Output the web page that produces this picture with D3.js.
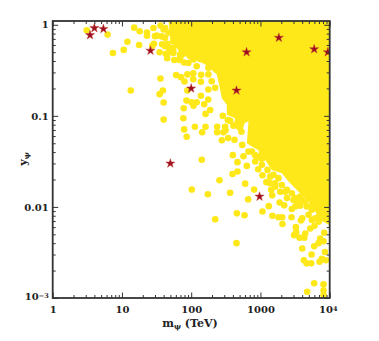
<!DOCTYPE html>
<meta charset="utf-8">
<style>

body {
	margin: 0;
	background: #fff;
}

text {
	font-family: "DejaVu Serif", serif;
	font-weight: bold;
	font-size: 10px;
	fill: #222;
}

.axis path {
	display: none;
}

.axis line {
	stroke: #333;
}

.axis .tick text {
	fill: #222;
}

</style>
<svg width="379" height="341"></svg>
<script src="https://d3js.org/d3.v7.min.js"></script>
<script>

	// scattered models
	var pointM = [
		3.1, 6.2, 15, 18, 12, 17.7, 10.6, 7.4, 23, 23, 28.5, 36, 32, 29, 27.5, 35, 45, 47, 43, 48.5,
		45, 57, 68, 79, 60.5, 71, 80, 88, 36, 39, 35, 88, 40, 85.5, 78, 40, 77, 79, 86, 13.4,
		37.6, 42, 55, 69,
		107, 107, 139, 138, 101, 120, 108, 138, 154, 176, 161, 188, 286, 338, 365, 113, 161, 144, 237, 237,
		309, 313, 292, 408, 532, 277, 342, 422, 545, 399, 142, 569, 672, 839,
		466, 466, 395, 256, 602, 810, 365, 102, 174, 665, 456, 589, 222, 1070, 1320, 1490, 1820, 2060, 2080, 2810,
		1890, 2200, 1430, 1480, 1220, 1070, 927, 636, 451, 4010, 5470, 4240, 4630, 5410, 7140, 7710, 8810, 8530,
		5970, 4730, 8150, 8150, 8150, 3250, 3280, 3070, 3670, 4290, 4430, 5230, 6040, 6980, 8340, 7290, 6900, 5970, 8150,
		4010, 3840, 2840, 3180, 3750,
		91, 120, 177, 177, 198, 222, 177, 30, 40, 42, 38, 55, 73, 47, 55, 97, 135,
		839, 5230, 1380, 1630, 2280, 3000, 3970,
		1050, 1265, 1545, 1820, 1380, 1630, 2040, 2410, 1930, 2840, 2410, 3180, 3750, 3360, 4430, 4680, 5530, 4950, 6180, 5530, 6900,
		752, 887, 950, 1050, 55, 42, 69, 108
	];
	var pointY = [
		0.87, 0.78, 0.93, 0.85, 0.65, 0.6, 0.53, 0.49, 0.82, 0.76, 0.92, 0.98, 0.76, 0.62, 0.59, 0.5, 0.62, 0.57, 0.48, 0.5,
		0.43, 0.41, 0.41, 0.385, 0.28, 0.266, 0.238, 0.285, 0.257, 0.19, 0.173, 0.19, 0.14, 0.147, 0.121, 0.091, 0.094, 0.071, 0.059, 0.19,
		0.745, 0.92, 0.51, 0.47,
		0.294, 0.253, 0.282, 0.237, 0.141, 0.141, 0.129, 0.166, 0.134, 0.151, 0.105, 0.116, 0.1, 0.09, 0.088, 0.076, 0.076, 0.066, 0.076, 0.066,
		0.076, 0.0695, 0.066, 0.078, 0.067, 0.054, 0.057, 0.0545, 0.048, 0.037, 0.033, 0.036, 0.0405, 0.037,
		0.031, 0.0245, 0.023, 0.0196, 0.018, 0.0155, 0.0143, 0.0155, 0.0138, 0.0121, 0.0085, 0.0081, 0.0073, 0.0089, 0.0102, 0.008, 0.0077, 0.0077, 0.0065, 0.0077,
		0.0112, 0.0104, 0.0154, 0.0134, 0.0187, 0.0223, 0.0259, 0.0282, 0.004, 0.0035, 0.003, 0.0026, 0.0024, 0.0024, 0.0025, 0.0027, 0.0026, 0.0032,
		0.00145, 0.00117, 0.00141, 0.00121, 0.00107, 0.006, 0.0053, 0.0049, 0.0046, 0.0046, 0.0051, 0.0058, 0.0062, 0.0069, 0.0052, 0.0045, 0.004, 0.0037, 0.0042,
		0.0075, 0.0071, 0.0095, 0.0101, 0.0103,
		0.38, 0.35, 0.337, 0.285, 0.24, 0.203, 0.195, 0.75, 0.89, 0.72, 0.61, 0.56, 0.47, 0.82, 0.66, 0.45, 0.42,
		0.0315, 0.0101, 0.0182, 0.0167, 0.0147, 0.0119, 0.0119,
		0.029, 0.0255, 0.0225, 0.0207, 0.0215, 0.0182, 0.0174, 0.0154, 0.0147, 0.0141, 0.0125, 0.0125, 0.013, 0.0114, 0.0114, 0.0101, 0.0093, 0.0082, 0.0075, 0.0072, 0.0078,
		0.0405, 0.0357, 0.035, 0.034, 0.49, 0.58, 0.43, 0.416
	];

	// edge of the region where the points merge into solid yellow
	var denseM = [47, 50, 65, 69, 120, 159, 234, 262, 277, 327, 327, 431, 408, 538, 589, 672, 636, 752, 938, 991, 1170, 1460, 2040, 2540, 3550, 4950, 6180, 7290, 10000, 10000];
	var denseY = [1.1, 0.68, 0.53, 0.47, 0.41, 0.366, 0.285, 0.195, 0.156, 0.132, 0.103, 0.094, 0.076, 0.0645, 0.083, 0.087, 0.05, 0.046, 0.042, 0.03, 0.0328, 0.0255, 0.0234, 0.019, 0.0147, 0.0115, 0.0089, 0.0072, 0.0063, 1.1];

	var starM = [3.46, 4, 5.4, 25.8, 100, 451, 630, 1845, 5970, 9400, 50, 970];
	var starY = [0.77, 0.92, 0.9, 0.52, 0.2, 0.19, 0.5, 0.72, 0.54, 0.5, 0.03, 0.013];

	var xMajor = [1, 10, 100, 1000, 10000];
	var xLabels = ["1", "10", "100", "1000", "10"];
	var yMajor = [1, 0.1, 0.01, 0.001];
	var yLabels = ["1", "0.1", "0.01", "10"];
	var minorMantissa = [2, 3, 4, 5, 6, 7, 8, 9];

	var svg = d3.select("svg"),
		left = 52.7,
		right = 329.7,
		top_ = 21,
		bottom = 298;

	var x = d3.scaleLog().domain([1, 10000]).range([left, right]);
	var y = d3.scaleLog().domain([0.001, 1.1]).range([bottom, top_]);

	svg.append("clipPath")
		.attr("id", "plot")
	  .append("rect")
		.attr("x", left)
		.attr("y", top_)
		.attr("width", right - left)
		.attr("height", bottom - top_);

	var plot = svg.append("g").attr("clip-path", "url(#plot)");

	var yellow = "#fee81a";

	plot.append("path")
		.datum(d3.range(denseM.length))
		.attr("fill", yellow)
		.attr("d", d3.line()
			.x(function(i) { return x(denseM[i]); })
			.y(function(i) { return y(denseY[i]); }));

	plot.selectAll(".pt")
	  .data(d3.range(pointM.length))
	  .enter().append("circle")
		.attr("class", "pt")
		.attr("cx", function(i) { return x(pointM[i]); })
		.attr("cy", function(i) { return y(pointY[i]); })
		.attr("r", 3.3)
		.attr("fill", yellow);

	var star = d3.symbol().type(d3.symbolStar).size(26);

	plot.selectAll(".star")
	  .data(d3.range(starM.length))
	  .enter().append("path")
		.attr("class", "star")
		.attr("transform", function(i) { return "translate(" + x(starM[i]) + "," + y(starY[i]) + ")"; })
		.attr("d", star)
		.attr("fill", "#9c0f22")
		.attr("stroke", "#c8402a")
		.attr("stroke-opacity", 0.45)
		.attr("stroke-width", 1);

	// minor values for every decade between two powers of ten
	function minors(from, to) {
		var out = [];
		for (var e = from; e < to; e++) {
			minorMantissa.forEach(function(m) { out.push(m * Math.pow(10, e)); });
		}
		return out;
	}

	var noLabel = function() { return ""; };
	var xMinor = minors(0, 4);
	var yMinor = minors(-3, 0);

	function tickGroup(axis, values, size, tx, fmt) {
		var g = svg.append("g")
			.attr("class", "axis")
			.attr("transform", tx)
			.call(axis.tickValues(values).tickSize(size).tickFormat(fmt));
		return g;
	}

	var bottomMajor = tickGroup(d3.axisBottom(x), xMajor, -5.5, "translate(0," + bottom + ")", function(d, i) { return xLabels[i]; });
	tickGroup(d3.axisBottom(x), xMinor, -3, "translate(0," + bottom + ")", noLabel);
	tickGroup(d3.axisTop(x), xMajor, -5.5, "translate(0," + top_ + ")", noLabel);
	tickGroup(d3.axisTop(x), xMinor, -3, "translate(0," + top_ + ")", noLabel);

	var leftMajor = tickGroup(d3.axisLeft(y), yMajor, -5.5, "translate(" + left + ",0)", function(d, i) { return yLabels[i]; });
	tickGroup(d3.axisLeft(y), yMinor, -3, "translate(" + left + ",0)", noLabel);
	tickGroup(d3.axisRight(y), yMajor, -5.5, "translate(" + right + ",0)", noLabel);
	tickGroup(d3.axisRight(y), yMinor, -3, "translate(" + right + ",0)", noLabel);

	bottomMajor.selectAll("text")
		.attr("y", 8)
		.attr("dy", "0.71em")
		.style("font-size", "10px")
		.style("font-family", "DejaVu Serif");
	leftMajor.selectAll("text")
		.attr("x", -4)
		.attr("dy", "0.32em")
		.style("font-size", "10px")
		.style("font-family", "DejaVu Serif");

	// the last labels carry an exponent
	bottomMajor.selectAll(".tick text")
		.filter(function(d) { return d === 10000; })
		.attr("dx", -2)
	  .append("tspan")
		.attr("dy", "-0.35em")
		.style("font-size", "6.5px")
		.text("4");
	leftMajor.selectAll(".tick text")
		.filter(function(d) { return d === 0.001; })
		.attr("dy", "0.1em")
	  .append("tspan")
		.attr("dy", "-0.3em")
		.style("font-size", "6.5px")
		.text("−3");

	svg.append("rect")
		.attr("x", left)
		.attr("y", top_)
		.attr("width", right - left)
		.attr("height", bottom - top_)
		.attr("fill", "none")
		.attr("stroke", "#333")
		.attr("stroke-width", 1.8);

	var xTitle = svg.append("text")
		.attr("x", 190)
		.attr("y", 327)
		.attr("text-anchor", "middle")
		.style("font-size", "11px");
	xTitle.append("tspan").text("m");
	xTitle.append("tspan").attr("dy", 2).style("font-size", "7.5px").text("ψ");
	xTitle.append("tspan").attr("dy", -2).text(" (TeV)");

	var yTitle = svg.append("text")
		.attr("transform", "translate(27,159) rotate(-90)")
		.attr("text-anchor", "middle")
		.style("font-size", "11px");
	yTitle.append("tspan").text("y");
	yTitle.append("tspan").attr("dy", 2).style("font-size", "7.5px").text("ψ");

</script>
